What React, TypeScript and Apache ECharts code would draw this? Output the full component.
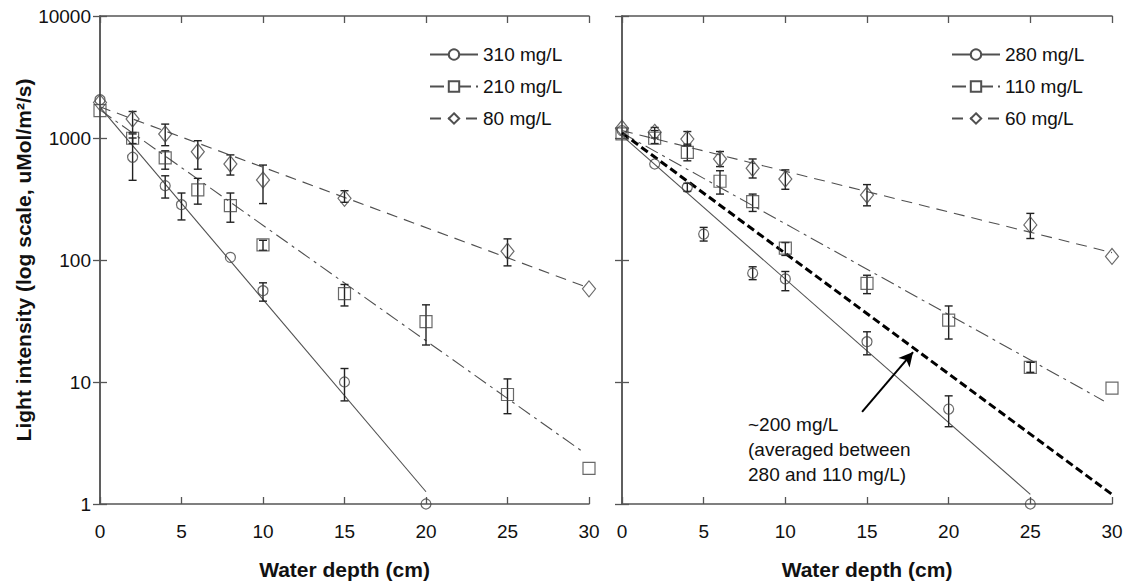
import React, { useEffect, useRef } from "react";
import * as echarts from "echarts";

// ---------- Data (left panel) ----------
const depth310 = [0, 2, 4, 5, 8, 10, 15, 20];
const val310 = [2060, 695, 406, 284, 105, 56, 10, 1];
const lo310 = [null, 450, 322, 213, null, 46, 7.0, null];
const hi310 = [null, 1000, 490, 354, null, 65, 12.9, null];

const depth210 = [0, 2, 4, 6, 8, 10, 15, 20, 25, 30];
const val210 = [1675, 995, 686, 375, 279, 133, 53, 31.2, 7.9, 1.96];
const lo210 = [null, 900, 555, 287, 204, 120, 42, 20.1, 5.5, null];
const hi210 = [null, 1080, 785, 467, 354, 145, 63, 42.9, 10.6, null];

const depth80 = [0, 2, 4, 6, 8, 10, 15, 25, 30];
const val80 = [1950, 1431, 1079, 772, 612, 453, 320, 118, 58];
const lo80 = [null, 1110, 865, 555, 497, 290, 297, 89.5, null];
const hi80 = [null, 1650, 1300, 950, 727, 600, 370, 149, null];

// ---------- Data (right panel) ----------
const depth280 = [0, 2, 4, 5, 8, 10, 15, 20, 25];
const val280 = [1150, 612, 394, 163, 78, 70, 21.4, 6.0, 1];
const lo280 = [null, null, 365, 143, 69, 56, 16.7, 4.3, null];
const hi280 = [null, null, 425, 185, 88, 80.5, 25.8, 7.7, null];

const depth110 = [0, 2, 4, 6, 8, 10, 15, 20, 25, 30];
const val110 = [1079, 995, 763, 442, 301, 125, 64.4, 32.2, 13.2, 8.9];
const lo110 = [null, 900, 650, 347, 250, 109, 53, 22.5, 12.0, null];
const hi110 = [null, 1150, 890, 539, 347, 139, 75, 42, 14.5, null];

const depth60 = [0, 2, 4, 6, 8, 10, 15, 25, 30];
const val60 = [1202, 1113, 979, 673, 565, 461, 341, 194, 107];
const lo60 = [null, 1000, 865, 583, 470, 380, 278, 150, null];
const hi60 = [null, 1220, 1130, 775, 673, 548, 415, 241, null];

// ---------- Fitted lines: [depth, intensity] endpoints ----------
const fit310 = [[0, 1790], [20, 1.26]];
const fit210 = [[0, 1700], [29.5, 2.75]];
const fit80 = [[0, 1800], [30, 59]];
const fit280 = [[0, 1045], [25, 1.2]];
const fit110 = [[0, 1100], [29.5, 7]];
const fit60 = [[0, 1150], [30, 115]];
const fitAvg200 = [[0, 1100], [30, 1.2]];

// Annotation arrow (data coords on right panel)
const arrowTail = [14.7, 5.68];
const arrowHead = [17.82, 17.6];

const xTicks = [0, 5, 10, 15, 20, 25, 30];
const legendLeft = ["310 mg/L", "210 mg/L", "80 mg/L"];
const legendRight = ["280 mg/L", "110 mg/L", "60 mg/L"];
const annotationText = "~200 mg/L\n(averaged between\n280 and 110 mg/L)";

const FONT = "'Liberation Sans', Arial, Helvetica, sans-serif";
const AXIS_COLOR = "#555";
const LINE_COLOR = "#505050";
const MARK_COLOR = "#444";
const ERR_COLOR = "#222";

function pts(d: number[], v: number[]) {
  return d.map((x, i) => [x, v[i]]);
}
function errPts(d: number[], v: number[], lo: (number | null)[], hi: (number | null)[]) {
  const out: number[][] = [];
  d.forEach((x, i) => {
    if (lo[i] != null || hi[i] != null) {
      out.push([x, (lo[i] ?? v[i]) as number, (hi[i] ?? v[i]) as number]);
    }
  });
  return out;
}

function errorSeries(data: number[][], axis: number) {
  return {
    type: "custom",
    xAxisIndex: axis,
    yAxisIndex: axis,
    silent: true,
    z: 3,
    encode: { x: 0, y: [1, 2] },
    data,
    renderItem: (_params: any, api: any) => {
      const x = api.value(0);
      const pLo = api.coord([x, api.value(1)]);
      const pHi = api.coord([x, api.value(2)]);
      const w = 4;
      const style = { stroke: ERR_COLOR, lineWidth: 1.4 };
      return {
        type: "group",
        children: [
          { type: "line", shape: { x1: pLo[0], y1: pLo[1], x2: pHi[0], y2: pHi[1] }, style },
          { type: "line", shape: { x1: pLo[0] - w, y1: pLo[1], x2: pLo[0] + w, y2: pLo[1] }, style },
          { type: "line", shape: { x1: pHi[0] - w, y1: pHi[1], x2: pHi[0] + w, y2: pHi[1] }, style },
        ],
      };
    },
  };
}

function markerSeries(name: string, data: number[][], axis: number, symbol: string, size: any) {
  return {
    name,
    type: "scatter",
    xAxisIndex: axis,
    yAxisIndex: axis,
    symbol,
    symbolSize: size,
    silent: true,
    z: 4,
    itemStyle: { color: "rgba(255,255,255,0)", borderColor: MARK_COLOR, borderWidth: 1.2 },
    data,
  };
}

function fitSeries(name: string, data: number[][], axis: number, symbol: string, lineType: any) {
  return {
    name,
    type: "line",
    xAxisIndex: axis,
    yAxisIndex: axis,
    symbol,
    showSymbol: false,
    silent: true,
    z: 2,
    lineStyle: { color: LINE_COLOR, width: 1.1, type: lineType },
    itemStyle: { color: "#fff", borderColor: LINE_COLOR, borderWidth: 1 },
    data,
  };
}

function xAxisPair(grid: number) {
  const base = {
    gridIndex: grid,
    type: "value",
    min: 0,
    max: 30,
    interval: 5,
    axisLine: { show: true, lineStyle: { color: AXIS_COLOR, width: 1.5 } },
    axisTick: { show: true, inside: true, length: 7, lineStyle: { color: AXIS_COLOR, width: 1.3 } },
    splitLine: { show: false },
  };
  return [
    {
      ...base,
      position: "bottom",
      axisLabel: {
        show: true,
        margin: 18,
        fontSize: 19,
        fontFamily: FONT,
        color: "#111",
        formatter: (v: number) => (xTicks.includes(v) ? String(v) : ""),
      },
      name: "Water depth (cm)",
      nameLocation: "middle",
      nameGap: 55,
      nameTextStyle: { fontSize: 21, fontWeight: "bold", fontFamily: FONT, color: "#111" },
    },
    { ...base, position: "top", axisLabel: { show: false } },
  ];
}

function yAxisPair(grid: number, showLabels: boolean) {
  const base = {
    gridIndex: grid,
    type: "log",
    logBase: 10,
    min: 1,
    max: 10000,
    axisLine: { show: true, lineStyle: { color: AXIS_COLOR, width: 1.5 } },
    axisTick: { show: true, inside: true, length: 7, lineStyle: { color: AXIS_COLOR, width: 1.3 } },
    minorTick: { show: false },
    splitLine: { show: false },
  };
  const left: any = {
    ...base,
    position: "left",
    axisLabel: showLabels
      ? {
          show: true,
          margin: 9,
          fontSize: 19,
          fontFamily: FONT,
          color: "#111",
          formatter: (v: number) => String(Math.round(v)),
        }
      : { show: false },
  };
  if (showLabels) {
    left.name = "Light intensity (log scale, uMol/m²/s)";
    left.nameLocation = "middle";
    left.nameGap = 66;
    left.nameTextStyle = { fontSize: 21, fontWeight: "bold", fontFamily: FONT, color: "#111" };
  }
  return [left, { ...base, position: "right", axisLabel: { show: false } }];
}

function legendCfg(names: string[], left: number) {
  return {
    data: names,
    orient: "vertical",
    left,
    top: 40,
    itemWidth: 48,
    itemHeight: 13,
    itemGap: 13,
    selectedMode: false,
    textStyle: { fontSize: 19, fontFamily: FONT, color: "#111", lineHeight: 19 },
  };
}

export default function App() {
  const ref = useRef<HTMLDivElement>(null);
  useEffect(() => {
    if (!ref.current) return;
    const chart = echarts.init(ref.current, null, { renderer: "svg" });
    const dashDot = [14, 5, 3, 5];
    const dashed = [11, 7];
    const option: any = {
      animation: false,
      backgroundColor: "#fff",
      textStyle: { fontFamily: FONT },
      grid: [
        { left: 100, top: 16, width: 489, height: 489 },
        { left: 622, top: 16, width: 490, height: 489 },
      ],
      xAxis: [...xAxisPair(0), ...xAxisPair(1)],
      yAxis: [...yAxisPair(0, true), ...yAxisPair(1, false)],
      legend: [legendCfg(legendLeft, 424), legendCfg(legendRight, 946)],
      graphic: [
        {
          type: "text",
          left: 748,
          top: 412,
          silent: true,
          style: {
            text: annotationText,
            fontSize: 19,
            lineHeight: 25,
            fontFamily: FONT,
            fill: "#111",
          },
        },
      ],
      series: [
        // Left panel (axis index 0)
        fitSeries(legendLeft[0], fit310, 0, "circle", "solid"),
        fitSeries(legendLeft[1], fit210, 0, "rect", dashDot),
        fitSeries(legendLeft[2], fit80, 0, "diamond", dashed),
        errorSeries(errPts(depth310, val310, lo310, hi310), 0),
        errorSeries(errPts(depth210, val210, lo210, hi210), 0),
        errorSeries(errPts(depth80, val80, lo80, hi80), 0),
        markerSeries("d310", pts(depth310, val310), 0, "circle", 10),
        markerSeries("d210", pts(depth210, val210), 0, "rect", 12),
        markerSeries("d80", pts(depth80, val80), 0, "diamond", [13, 16]),
        // Right panel (axis index 2)
        fitSeries(legendRight[0], fit280, 2, "circle", "solid"),
        fitSeries(legendRight[1], fit110, 2, "rect", dashDot),
        fitSeries(legendRight[2], fit60, 2, "diamond", dashed),
        {
          name: "avg200",
          type: "line",
          xAxisIndex: 2,
          yAxisIndex: 2,
          showSymbol: false,
          silent: true,
          z: 2,
          lineStyle: { color: "#000", width: 3, type: [8, 4] },
          data: fitAvg200,
          markLine: {
            silent: true,
            symbol: ["none", "arrow"],
            symbolSize: [11, 14],
            label: { show: false },
            lineStyle: { color: "#000", width: 2, type: "solid" },
            data: [[{ coord: arrowTail }, { coord: arrowHead }]],
          },
        },
        errorSeries(errPts(depth280, val280, lo280, hi280), 2),
        errorSeries(errPts(depth110, val110, lo110, hi110), 2),
        errorSeries(errPts(depth60, val60, lo60, hi60), 2),
        markerSeries("d280", pts(depth280, val280), 2, "circle", 10),
        markerSeries("d110", pts(depth110, val110), 2, "rect", 12),
        markerSeries("d60", pts(depth60, val60), 2, "diamond", [13, 16]),
      ],
    };
    chart.setOption(option);
    return () => chart.dispose();
  }, []);
  return (
    <div
      ref={ref}
      style={{ position: "absolute", left: 0, top: 0, width: 1138, height: 585 }}
    />
  );
}
